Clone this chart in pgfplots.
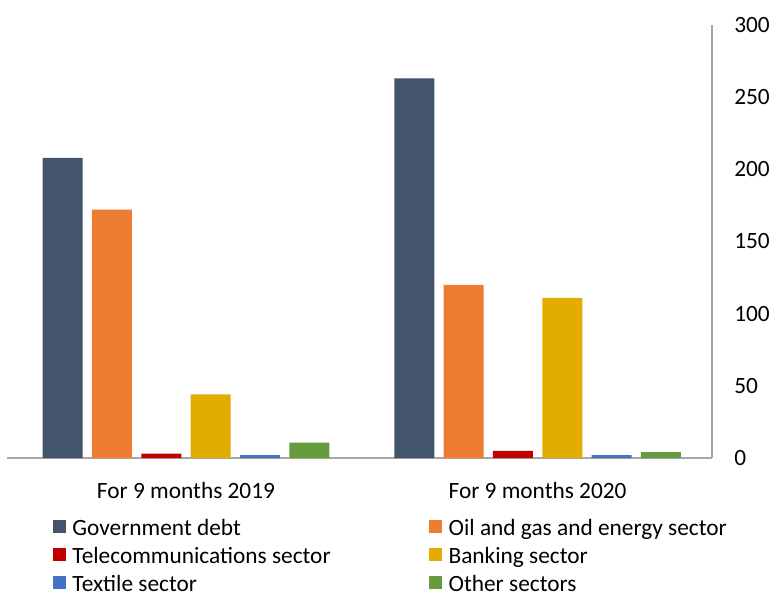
\documentclass[border=0pt]{standalone}
\usepackage{fontspec}
\setmainfont{Carlito}
\usepackage{pgfplots}
\pgfplotsset{compat=1.18}

\definecolor{cGov}{HTML}{44546A}
\definecolor{cOil}{HTML}{ED7D31}
\definecolor{cTel}{HTML}{C00000}
\definecolor{cBank}{HTML}{E2AC00}
\definecolor{cTex}{HTML}{4472C4}
\definecolor{cOth}{HTML}{669B3E}

\newcommand{\topstrut}{\rule{0pt}{14.98pt}}

\begin{document}
\begin{tikzpicture}
\begin{axis}[
  scale only axis, width=528.75pt, height=324.75pt,
  ybar=7pt, bar width=30pt,
  xmin=-0.509, xmax=1.496, ymin=0, ymax=300,
  xtick={0,1},
  xticklabels={For 9 months 2019, For 9 months 2020},
  ytick={0,50,100,150,200,250,300},
  axis x line*=bottom, axis y line*=right,
  axis line style={-, draw=black!35, line width=1pt},
  major tick length=0pt, tick style={draw=none},
  every tick label/.append style={font=\fontsize{17.5}{21}\selectfont},
  xticklabel style={anchor=base, yshift=-30.4pt, inner sep=0pt},
  yticklabel style={anchor=west, xshift=16.5pt, inner sep=0pt},
  /pgf/number format/assume math mode=true,
  legend columns=2,
  legend cell align=left,
  legend style={at={(rel axis cs:0,0)}, anchor=north west,
                xshift=34.3pt, yshift=-43.1pt,
                draw=none, fill=none, inner sep=0pt,
                column sep=0pt, row sep=4.4pt,
                nodes={inner sep=0pt},
                font=\fontsize{17.5}{21.4}\selectfont},
  legend image code/.code={
    \fill[#1, draw=none] (0pt,-4.9pt) rectangle (9.9pt,4.9pt);
    \path (14.6pt,0pt);
  },
]
% 2019, 2020
\addplot[fill=cGov, draw=none]  coordinates {(0,208) (1,263)};
\addplot[fill=cOil, draw=none]  coordinates {(0,172) (1,120)};
\addplot[fill=cTel, draw=none]  coordinates {(0,3) (1,5)};
\addplot[fill=cBank, draw=none] coordinates {(0,44) (1,111)};
\addplot[fill=cTex, draw=none]  coordinates {(0,2) (1,2)};
\addplot[fill=cOth, draw=none]  coordinates {(0,10.6) (1,4)};
\addlegendentry{\makebox[267.5pt][l]{Government debt\strut}}
\addlegendentry{Oil and gas and energy sector\strut}
\addlegendentry{\makebox[267.5pt][l]{Telecommunications sector\strut}}
\addlegendentry{Banking sector\strut}
\addlegendentry{\makebox[267.5pt][l]{Textile sector\topstrut}}
\addlegendentry{Other sectors\topstrut}
\end{axis}
\pgfresetboundingbox
\path (-5.25pt,-101.25pt) rectangle (576.75pt,343.5pt);
\end{tikzpicture}
\end{document}
